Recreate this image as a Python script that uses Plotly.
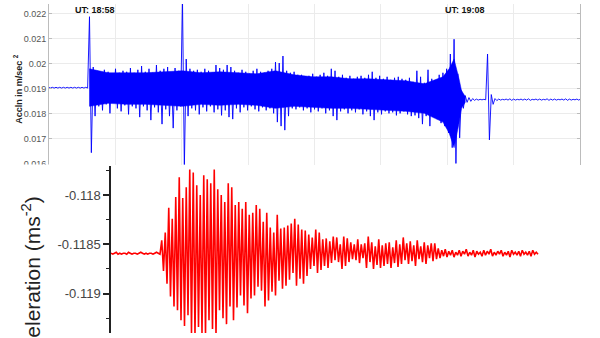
import plotly.graph_objects as go

# ---------------- top panel: acceleration (m/s^2), envelope samples every 6 s, t = 0 at UT 18:58
BLUE_T0 = -66.0
BLUE_DT = 6.0
blue_pre_upper = [0.01906, 0.01906, 0.01906, 0.01906, 0.01906, 0.01906, 0.01906, 0.01906, 0.01906, 0.01906, 0.01906]
blue_pre_lower = [0.01903, 0.01903, 0.01903, 0.01903, 0.01903, 0.01903, 0.01903, 0.01903, 0.01903, 0.01903, 0.01903]
blue_event_upper = [
    0.02188, 0.01987, 0.01972, 0.01964, 0.01976, 0.01968, 0.01960, 0.01980, 0.01964, 0.01972,
    0.01968, 0.01983, 0.01964, 0.01976, 0.01991, 0.01968, 0.01980, 0.01964, 0.01995, 0.01972,
    0.01980, 0.01987, 0.01964, 0.01983, 0.01972, 0.02255, 0.02019, 0.01980, 0.01972, 0.01976,
    0.01968, 0.01980, 0.01972, 0.01964, 0.01995, 0.01983, 0.01976, 0.01995, 0.01987, 0.01972,
    0.01964, 0.01976, 0.01968, 0.01960, 0.01972, 0.01980, 0.01968, 0.01964, 0.01972, 0.01980,
    0.02007, 0.02003, 0.02031, 0.01972, 0.01964, 0.01968, 0.01956, 0.01956, 0.01948, 0.01952,
    0.01960, 0.01948, 0.01956, 0.01964, 0.01952, 0.01980, 0.01972, 0.01948, 0.01956, 0.01944,
    0.01952, 0.01940, 0.01948, 0.01952, 0.01944, 0.01956, 0.01968, 0.01944, 0.01952, 0.01940,
    0.01948, 0.01936, 0.01944, 0.01948, 0.01940, 0.01936, 0.01944, 0.01928, 0.01972, 0.01948,
    0.01924, 0.01976, 0.01940, 0.01932, 0.01956, 0.01964, 0.01980, 0.02039, 0.02098, 0.01960,
    0.01893]
blue_event_lower = [
    0.01645, 0.01791, 0.01830, 0.01814, 0.01838, 0.01802, 0.01846, 0.01822, 0.01810, 0.01834,
    0.01798, 0.01830, 0.01822, 0.01787, 0.01830, 0.01814, 0.01775, 0.01826, 0.01806, 0.01759,
    0.01818, 0.01791, 0.01743, 0.01814, 0.01830, 0.01586, 0.01791, 0.01822, 0.01814, 0.01798,
    0.01826, 0.01810, 0.01830, 0.01806, 0.01818, 0.01794, 0.01814, 0.01787, 0.01779, 0.01822,
    0.01806, 0.01826, 0.01814, 0.01830, 0.01818, 0.01810, 0.01826, 0.01814, 0.01822, 0.01802,
    0.01767, 0.01751, 0.01735, 0.01791, 0.01822, 0.01818, 0.01826, 0.01814, 0.01822, 0.01806,
    0.01818, 0.01810, 0.01822, 0.01802, 0.01814, 0.01791, 0.01775, 0.01810, 0.01818, 0.01802,
    0.01814, 0.01806, 0.01818, 0.01798, 0.01810, 0.01791, 0.01775, 0.01806, 0.01798, 0.01810,
    0.01802, 0.01806, 0.01794, 0.01802, 0.01810, 0.01798, 0.01791, 0.01794, 0.01783, 0.01759,
    0.01791, 0.01751, 0.01787, 0.01779, 0.01763, 0.01751, 0.01724, 0.01665, 0.01602, 0.01704,
    0.01822]
blue_post_upper = [0.01873, 0.01865, 0.01861, 0.01859, 0.01858, 0.01858, 0.02039, 0.01877, 0.01861, 0.01859,
                   0.01858, 0.01859, 0.01860, 0.01859, 0.01858, 0.01859, 0.01859, 0.01860, 0.01858, 0.01859,
                   0.01859, 0.01858, 0.01860, 0.01859, 0.01859, 0.01858, 0.01859, 0.01860, 0.01859, 0.01858,
                   0.01859, 0.01859]
blue_post_lower = [0.01846, 0.01850, 0.01854, 0.01855, 0.01856, 0.01856, 0.01696, 0.01838, 0.01853, 0.01855,
                   0.01856, 0.01855, 0.01854, 0.01855, 0.01856, 0.01855, 0.01855, 0.01854, 0.01856, 0.01855,
                   0.01855, 0.01856, 0.01854, 0.01855, 0.01855, 0.01856, 0.01855, 0.01854, 0.01855, 0.01856,
                   0.01855, 0.01855]
# dense (solid) core of the noise band
blue_core_t = [0, 30, 60, 90, 120, 150, 180, 210, 240, 270, 300, 330, 360, 390, 420, 450, 480, 510, 540,
               570, 580, 588, 596, 600, 606]
blue_core_upper = [0.01980, 0.01964, 0.01964, 0.01964, 0.01968, 0.01972, 0.01964, 0.01968, 0.01964, 0.01960,
                   0.01972, 0.01956, 0.01948, 0.01948, 0.01940, 0.01940, 0.01936, 0.01932, 0.01920,
                   0.01948, 0.01980, 0.02019, 0.01940, 0.01893, 0.01869]
blue_core_lower = [0.01830, 0.01842, 0.01838, 0.01838, 0.01834, 0.01830, 0.01838, 0.01834, 0.01838, 0.01834,
                   0.01822, 0.01830, 0.01826, 0.01822, 0.01822, 0.01818, 0.01814, 0.01810, 0.01802,
                   0.01767, 0.01724, 0.01665, 0.01763, 0.01822, 0.01846]
top_tick_vals = [0.022, 0.021, 0.020, 0.019, 0.018, 0.017, 0.016]
top_tick_text = ["0.022", "0.021", "0.02", "0.019", "0.018", "0.017", "0.016"]
ut_labels = ["UT: 18:58", "UT: 19:08"]
ut_times = [9.0, 606.0]

# ---------------- bottom panel: acceleration (m s^-2), samples every 0.175 s (half cycles)
RED_DT = 0.175
red_pre = [-0.11859, -0.1186, -0.11859, -0.11858, -0.1186, -0.11859, -0.1186, -0.11859, -0.11859, -0.1186,
           -0.11858, -0.11859, -0.1186, -0.11859, -0.11859, -0.1186, -0.11859, -0.11858, -0.11859, -0.1186,
           -0.11859, -0.1186, -0.11859, -0.11859, -0.1186, -0.11859, -0.11858, -0.11859, -0.1186]
red_peaks = [-0.11846, -0.11838, -0.11813, -0.11824, -0.11802, -0.11782, -0.11803, -0.11792, -0.11774, -0.11777,
             -0.1179, -0.118, -0.1178, -0.11784, -0.11788, -0.11774, -0.11794, -0.118, -0.11807, -0.11788,
             -0.11792, -0.1181, -0.11807, -0.11814, -0.11807, -0.1182, -0.11818, -0.1181, -0.11814, -0.11827,
             -0.11818, -0.11833, -0.11838, -0.1182, -0.11834, -0.11833, -0.11831, -0.11829, -0.11824, -0.1183,
             -0.11835, -0.11836, -0.1184, -0.11843, -0.11835, -0.11838, -0.11845, -0.11844, -0.11847, -0.11842,
             -0.11843, -0.1185, -0.11842, -0.11844, -0.11848, -0.1185, -0.11845, -0.1185, -0.11849, -0.11842,
             -0.11848, -0.11852, -0.11845, -0.11851, -0.11849, -0.11848, -0.11853, -0.11846, -0.1185, -0.11843,
             -0.11849, -0.11847, -0.11851, -0.11846, -0.11852, -0.11848, -0.11851, -0.11849, -0.11849]
red_troughs = [-0.11877, -0.1189, -0.11903, -0.11913, -0.11917, -0.11927, -0.11933, -0.11922, -0.1194, -0.11942,
               -0.11934, -0.1194, -0.11942, -0.11927, -0.11936, -0.11942, -0.11917, -0.11925, -0.11931, -0.11913,
               -0.11927, -0.11914, -0.11902, -0.11912, -0.1192, -0.11905, -0.11902, -0.11893, -0.11897, -0.11913,
               -0.11907, -0.11898, -0.11902, -0.11887, -0.11895, -0.11892, -0.11886, -0.11879, -0.11892, -0.11885,
               -0.1189, -0.11882, -0.11875, -0.11872, -0.11879, -0.11876, -0.11872, -0.11874, -0.11869, -0.11866,
               -0.11868, -0.11875, -0.11872, -0.11868, -0.11865, -0.11866, -0.11869, -0.11864, -0.11874, -0.11868,
               -0.11875, -0.11871, -0.11874, -0.11872, -0.1187, -0.11874, -0.11869, -0.11873, -0.1187, -0.11866,
               -0.1187, -0.11867, -0.11872, -0.11865, -0.11868, -0.1187, -0.11864, -0.11867, -0.11865]
red_tail = [-0.11854, -0.11864, -0.11856, -0.11862, -0.11855, -0.11863, -0.11857, -0.11861, -0.11856, -0.11863,
            -0.11858, -0.11861, -0.11856, -0.11862, -0.11857, -0.1186, -0.11855, -0.11862, -0.11858, -0.11861,
            -0.11856, -0.11863, -0.11857, -0.1186, -0.11858, -0.11862, -0.11856, -0.11861, -0.11857, -0.1186,
            -0.11855, -0.11862, -0.11858, -0.11861, -0.11857, -0.1186, -0.11856, -0.11862, -0.11858, -0.11861,
            -0.11857, -0.11863, -0.11856, -0.1186, -0.11858, -0.11861, -0.11857, -0.11862, -0.11856, -0.1186,
            -0.11858, -0.11861, -0.11857, -0.11862, -0.11856, -0.1186, -0.11858, -0.1186]
bottom_tick_vals = [-0.118, -0.1185, -0.119]
bottom_tick_text = ["-0.118", "-0.1185", "-0.119"]
bottom_minor_vals = [-0.11775, -0.11825, -0.11875, -0.11925]

# ---------------- build traces
upper = blue_pre_upper + blue_event_upper + blue_post_upper
lower = blue_pre_lower + blue_event_lower + blue_post_lower
t_up = [BLUE_T0 + BLUE_DT * i for i in range(len(upper))]
t_lo = [t + BLUE_DT / 2 for t in t_up]
bx, by = [], []
for tu, u, tl, l in zip(t_up, upper, t_lo, lower):
    bx += [tu, tl]
    by += [u, l]
core_x = blue_core_t + blue_core_t[::-1] + [blue_core_t[0]]
core_y = blue_core_upper + blue_core_lower[::-1] + [blue_core_upper[0]]

osc = []
for p, q in zip(red_peaks, red_troughs):
    osc += [p, q]
ry = red_pre + osc + red_tail
rx = [RED_DT * i for i in range(len(ry))]

W, H = 600, 338
fig = go.Figure()
fig.add_trace(go.Scatter(x=core_x, y=core_y, mode="lines", fill="toself", fillcolor="#0000ff",
                         line=dict(color="#0000ff", width=0.5, simplify=False),
                         xaxis="x", yaxis="y", hoverinfo="skip"))
fig.add_trace(go.Scatter(x=bx, y=by, mode="lines", line=dict(color="#0000ff", width=0.9, simplify=False),
                         xaxis="x", yaxis="y", hoverinfo="skip"))
fig.add_trace(go.Scatter(x=rx, y=ry, mode="lines", line=dict(color="#ff0000", width=1.6, simplify=False),
                         xaxis="x2", yaxis="y2", hoverinfo="skip"))

FONT = "Liberation Sans, Arial, sans-serif"
top_x_range = [-65.3, 791.1]
fig.update_layout(
    width=W, height=H, margin=dict(l=0, r=0, t=0, b=0),
    paper_bgcolor="white", plot_bgcolor="white", showlegend=False,
    xaxis=dict(domain=[49 / W, 580 / W], range=top_x_range, tick0=top_x_range[0], dtick=107.05,
               showgrid=True, gridcolor="#ebebeb", gridwidth=1, showticklabels=False, ticks="",
               zeroline=False, showline=False, anchor="y"),
    yaxis=dict(domain=[1 - 167 / H, 1 - 4 / H], range=[0.015976, 0.02239],
               tickvals=top_tick_vals, ticktext=top_tick_text,
               tickfont=dict(size=9, color="#555555", family=FONT),
               showgrid=True, gridcolor="#ebebeb", zeroline=False,
               showline=True, linecolor="#bcbcbc", linewidth=1, mirror="ticks",
               ticks="inside", ticklen=3, tickcolor="#bcbcbc", anchor="x"),
    xaxis2=dict(domain=[111 / W, 1.0], range=[0, 48.9], visible=False, anchor="y2"),
    yaxis2=dict(domain=[0, 1 - 168 / H], range=[-0.1194, -0.1177],
                tickvals=bottom_tick_vals, ticktext=bottom_tick_text,
                tickfont=dict(size=13, color="#444444", family=FONT),
                showgrid=False, zeroline=False, showline=True, linecolor="#222222", linewidth=1.5,
                ticks="outside", ticklen=6, tickwidth=1.5, tickcolor="#222222",
                minor=dict(tickvals=bottom_minor_vals, ticks="outside", ticklen=3.5, tickwidth=1.2,
                           tickcolor="#222222"),
                anchor="x2"),
)

# the lowest tick label of the top panel is cut in half in the reference
fig.add_shape(type="rect", xref="paper", yref="paper", x0=0, x1=105 / W, y0=1 - 185 / H, y1=1 - 167 / H,
              fillcolor="white", line=dict(width=0), layer="above")

for txt, t in zip(ut_labels, ut_times):
    fig.add_annotation(x=t, y=1 - 10 / H, xref="x", yref="paper", text="<b>%s</b>" % txt,
                       showarrow=False, font=dict(size=9, color="#111111", family=FONT),
                       xanchor="center", yanchor="middle")

fig.add_annotation(x=18 / W, y=1 - 90 / H, xref="paper", yref="paper",
                   text="<b>Accln in m/sec <sup>2</sup></b>", textangle=-90, showarrow=False,
                   font=dict(size=9, color="#222222", family=FONT), xanchor="center", yanchor="middle")
fig.add_annotation(x=31 / W, y=1 - 289 / H, xref="paper", yref="paper",
                   text="Acceleration (ms<sup>-2</sup>)", textangle=-90, showarrow=False,
                   font=dict(size=21, color="#222222", family=FONT), xanchor="center", yanchor="middle")

fig.write_html("out.html")
